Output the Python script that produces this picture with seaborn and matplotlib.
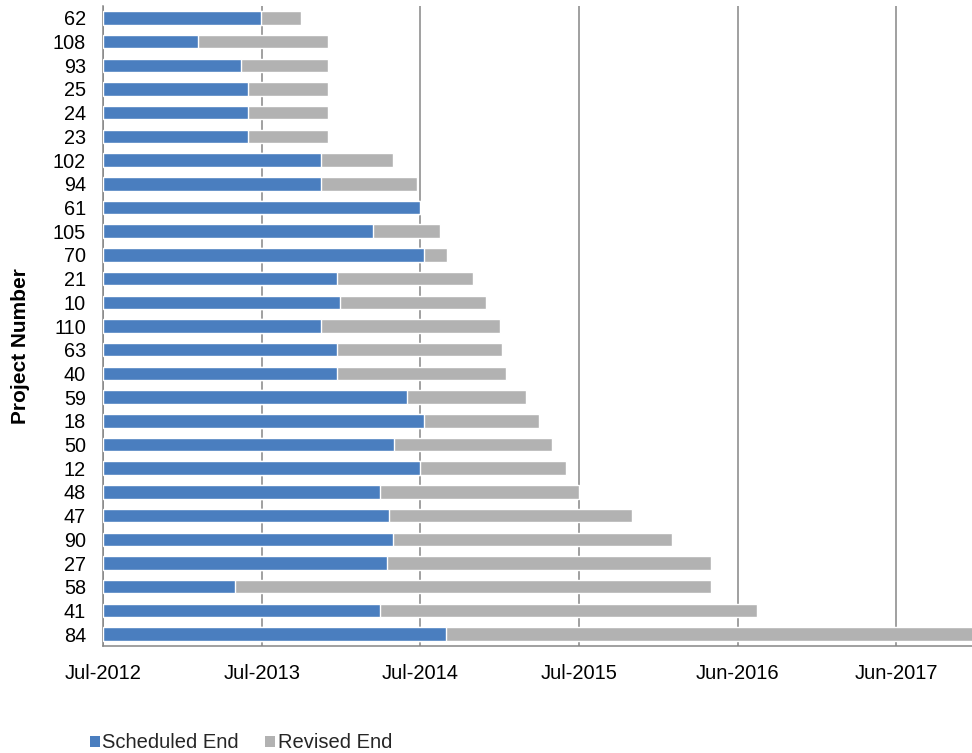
import matplotlib
matplotlib.use("Agg")
import matplotlib.pyplot as plt
import pandas as pd
import seaborn as sns
from matplotlib.patches import Patch

# ---- data ----
projects = ["62", "108", "93", "25", "24", "23", "102", "94", "61", "105", "70", "21", "10",
            "110", "63", "40", "59", "18", "50", "12", "48", "47", "90", "27", "58", "41", "84"]
scheduled_end = ["2013-06-30", "2013-02-04", "2013-05-15", "2013-05-31", "2013-05-31", "2013-05-31",
                 "2013-11-15", "2013-11-15", "2014-06-30", "2014-03-15", "2014-07-10", "2013-12-20",
                 "2013-12-29", "2013-11-15", "2013-12-20", "2013-12-20", "2014-06-01", "2014-07-10",
                 "2014-05-01", "2014-06-30", "2014-03-29", "2014-04-20", "2014-04-30", "2014-04-14",
                 "2013-04-30", "2014-03-31", "2014-08-30"]
revised_end = ["2013-09-30", "2013-11-30", "2013-11-30", "2013-11-30", "2013-11-30", "2013-11-30",
               "2014-04-30", "2014-06-24", "2014-06-30", "2014-08-14", "2014-08-31", "2014-10-31",
               "2014-11-30", "2014-12-31", "2015-01-06", "2015-01-15", "2015-02-28", "2015-03-31",
               "2015-04-30", "2015-06-01", "2015-06-30", "2015-10-31", "2016-01-31", "2016-04-30",
               "2016-04-30", "2016-08-15", "2018-03-31"]
axis_start = "2012-07-01"
tick_dates = ["2012-07-01", "2013-07-01", "2014-07-01", "2015-07-01", "2016-06-30", "2017-06-30"]
tick_labels = ["Jul-2012", "Jul-2013", "Jul-2014", "Jul-2015", "Jun-2016", "Jun-2017"]

BLUE = "#4A7EBF"
GRAY = "#B2B2B2"
GRID = "#868686"

start = pd.Timestamp(axis_start)
df = pd.DataFrame({
    "project": projects,
    "scheduled": (pd.to_datetime(scheduled_end) - start).days,
    "revised": (pd.to_datetime(revised_end) - start).days,
})
ticks = list((pd.to_datetime(tick_dates) - start).days)

sns.set_theme(style="white")
plt.rcParams["font.family"] = ["Liberation Sans", "DejaVu Sans"]

fig = plt.figure(figsize=(9.72, 7.53), dpi=100)
W, H = 972, 753
left_px, top_px, bottom_px = 103.3, 6.0, 646.0
ax = fig.add_axes([left_px / W, 1 - bottom_px / H, 1 - left_px / W, (bottom_px - top_px) / H])

sns.barplot(data=df, y="project", x="revised", order=projects, orient="h",
            color=GRAY, saturation=1, width=0.57, ax=ax, zorder=2)
sns.barplot(data=df, y="project", x="scheduled", order=projects, orient="h",
            color=BLUE, saturation=1, width=0.57, ax=ax, zorder=3)

days_per_px = 365 / 158.55
ax.set_xlim(0, (W - left_px) * days_per_px)
ax.set_ylim(len(projects) - 0.5, -0.5)

ax.set_xticks(ticks)
ax.set_xticklabels(tick_labels)
ax.xaxis.grid(True, color=GRID, linewidth=1.1)
ax.yaxis.grid(False)
ax.set_axisbelow(True)

for s in ["top", "right"]:
    ax.spines[s].set_visible(False)
for s in ["left", "bottom"]:
    ax.spines[s].set_color(GRID)
    ax.spines[s].set_linewidth(1.1)

ax.tick_params(axis="x", length=0, pad=13, labelsize=14.5, labelcolor="black")
ax.tick_params(axis="y", length=0, pad=12.5, labelsize=14.3, labelcolor="black")
ax.set_xlabel("")
ax.set_ylabel("Project Number", fontsize=15, fontweight="bold", color="black")
ax.yaxis.set_label_coords((30 - left_px) / (W - left_px), (bottom_px - 346) / (bottom_px - top_px))

handles = [Patch(facecolor=BLUE, edgecolor="none", label="Scheduled End"),
           Patch(facecolor=GRAY, edgecolor="none", label="Revised End")]
fig.legend(handles=handles, loc="center left", bbox_to_anchor=(90 / W, 10 / H),
           ncol=2, frameon=False, fontsize=14.5, handlelength=0.5, handleheight=0.5,
           handletextpad=0.12, columnspacing=1.3, borderaxespad=0, borderpad=0)

fig.savefig("out.png", dpi=100)
